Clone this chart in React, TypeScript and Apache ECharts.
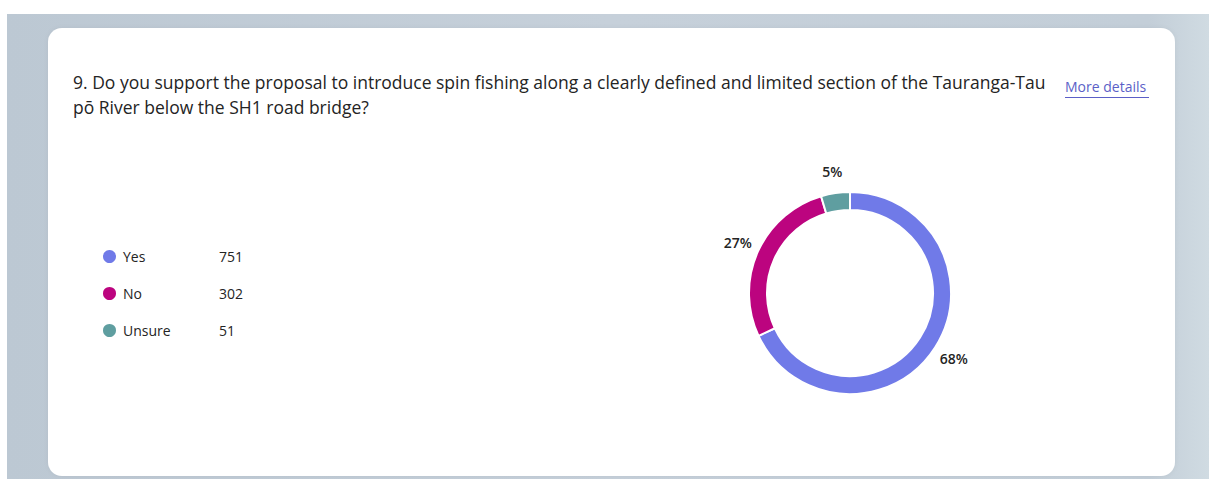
import React, { useEffect, useRef } from "react";
import * as echarts from "echarts";

const categories = ["Yes", "No", "Unsure"];
const counts = [751, 302, 51];
const colors = ["#707AE8", "#BC047F", "#5F9EA0"];
const titleLines = [
  "9. Do you support the proposal to introduce spin fishing along a clearly defined and limited section of the Tauranga-Tau",
  "pō River below the SH1 road bridge?",
];
const linkText = "More details";

const FONT = "'Open Sans', 'Noto Sans', sans-serif";

export default function App() {
  const ref = useRef<HTMLDivElement>(null);
  useEffect(() => {
    if (!ref.current) return;
    const chart = echarts.init(ref.current, undefined, { renderer: "svg" });
    const data = categories.map((c, i) => ({
      name: c,
      value: counts[i],
      itemStyle: { color: colors[i] },
    }));
    const valueOf: Record<string, number> = {};
    categories.forEach((c, i) => (valueOf[c] = counts[i]));

    chart.setOption({
      animation: false,
      backgroundColor: "#ffffff",
      textStyle: { fontFamily: FONT },
      graphic: [
        {
          type: "rect",
          z: -20,
          silent: true,
          shape: { x: 7, y: 14, width: 1202, height: 465 },
          style: {
            fill: new echarts.graphic.LinearGradient(0, 0, 1, 0, [
              { offset: 0, color: "#BCC8D3" },
              { offset: 0.5, color: "#C6D0DA" },
              { offset: 0.95, color: "#C3CED8" },
              { offset: 1, color: "#D0DBE2" },
            ]),
          },
        },
        {
          type: "rect",
          z: -10,
          silent: true,
          shape: { x: 48, y: 28, width: 1127, height: 448, r: 14 },
          style: { fill: "#ffffff", shadowBlur: 4, shadowColor: "rgba(0,0,0,0.06)" },
        },
        {
          type: "text",
          z: 5,
          x: 73,
          y: 69,
          style: {
            text: titleLines.join("\n"),
            fontFamily: FONT,
            fontSize: 17.5,
            lineHeight: 25,
            fill: "#242424",
            textVerticalAlign: "top",
          },
        },
        {
          type: "text",
          z: 5,
          x: 1065,
          y: 79,
          style: {
            text: linkText,
            fontFamily: FONT,
            fontSize: 14,
            fill: "#5B5FC7",
          },
        },
        {
          type: "line",
          z: 5,
          shape: { x1: 1065, y1: 97.5, x2: 1149, y2: 97.5 },
          style: { stroke: "#5B5FC7", lineWidth: 1 },
        },
      ],
      legend: {
        orient: "vertical",
        left: 96,
        top: 243,
        icon: "circle",
        itemWidth: 15,
        itemHeight: 15,
        itemGap: 20,
        selectedMode: false,
        data: categories,
        formatter: (name: string) => `{n|${name}}{v|${valueOf[name]}}`,
        textStyle: {
          fontFamily: FONT,
          fontSize: 14,
          color: "#242424",
          padding: [0, 0, 0, 1],
          rich: {
            n: { width: 96, fontSize: 14, color: "#242424", fontFamily: FONT },
            v: { fontSize: 14, color: "#242424", fontFamily: FONT },
          },
        },
      },
      series: [
        {
          type: "pie",
          center: [850, 293],
          radius: [83, 101],
          startAngle: 90,
          clockwise: true,
          avoidLabelOverlap: false,
          silent: true,
          itemStyle: { borderColor: "#ffffff", borderWidth: 2 },
          label: { show: false },
          labelLine: { show: false },
          data,
        },
        {
          type: "pie",
          name: "labels",
          center: [850, 293],
          radius: [0, 240],
          startAngle: 90,
          clockwise: true,
          silent: true,
          z: 3,
          itemStyle: { color: "rgba(0,0,0,0)", borderWidth: 0 },
          label: {
            show: true,
            position: "inside",
            rotate: 0,
            fontFamily: FONT,
            fontSize: 14,
            fontWeight: 600,
            color: "#242424",
            formatter: (p: any) => `${Math.round(p.percent)}%`,
          },
          labelLine: { show: false },
          data: categories.map((c, i) => ({ name: c, value: counts[i] })),
        },
      ],
    });
    return () => chart.dispose();
  }, []);
  return (
    <div
      ref={ref}
      style={{ position: "fixed", left: 0, top: 0, width: 1209, height: 479 }}
    />
  );
}
